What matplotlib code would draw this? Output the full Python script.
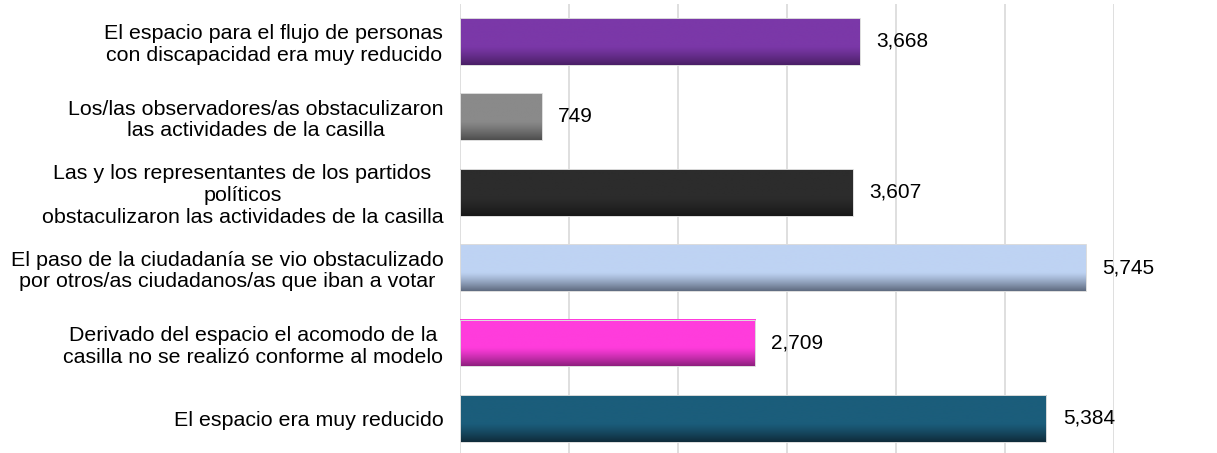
import numpy as np
import matplotlib.pyplot as plt
from matplotlib.colors import to_rgb

plt.rcParams['font.family'] = ['Liberation Sans', 'DejaVu Sans']

labels = [
    "El espacio para el flujo de personas\ncon discapacidad era muy reducido",
    "Los/las observadores/as obstaculizaron\nlas actividades de la casilla",
    "Las y los representantes de los partidos\npolíticos\nobstaculizaron las actividades de la casilla",
    "El paso de la ciudadanía se vio obstaculizado\npor otros/as ciudadanos/as que iban a votar",
    "Derivado del espacio el acomodo de la\ncasilla no se realizó conforme al modelo",
    "El espacio era muy reducido",
]
values = [3668, 749, 3607, 5745, 2709, 5384]
top_colors = ["#7B38A8", "#8A8A8A", "#2C2C2C", "#BED3F3", "#FF3CDC", "#1B5D7B"]
bottom_colors = ["#4A1F66", "#4E4E4E", "#181818", "#5F6B80", "#8E1F7E", "#0F2B3A"]


def gradient(c_top, c_bot, n=100):
    # flat colour on top, darker band in the lower part
    t = np.linspace(0, 1, n)
    w = np.clip((t - 0.6) / 0.4, 0, 1) ** 1.2
    a, b = np.array(to_rgb(c_top)), np.array(to_rgb(c_bot))
    return (a[None, :] * (1 - w[:, None]) + b[None, :] * w[:, None])[:, None, :]


fig = plt.figure(figsize=(12.17, 4.53), dpi=100)
ax = fig.add_axes([0.378, -0.007, 0.537, 0.999])

y = np.arange(len(values))
bars = ax.barh(y, values, height=0.62, color="none", edgecolor="#dcdcdc", linewidth=0.7, zorder=3)

for bar, ct, cb in zip(bars, top_colors, bottom_colors):
    x0, y0 = bar.get_x(), bar.get_y()
    w, h = bar.get_width(), bar.get_height()
    ax.imshow(gradient(ct, cb), extent=[x0, x0 + w, y0 + h, y0], aspect="auto",
              interpolation="bilinear", zorder=2)
    ax.text(x0 + w + 150, y0 + h / 2, f"{int(w):,}", va="center", ha="left",
            fontsize=15, color="#000000", zorder=4)

ax.set_xlim(0, 6000)
ax.set_ylim(len(values) - 0.5, -0.5)
ax.set_xticks(np.arange(0, 6001, 1000))
ax.xaxis.grid(True, color="#d9d9d9", linewidth=1.2, zorder=0)
ax.set_axisbelow(True)
ax.tick_params(axis="x", length=0, labelbottom=False)
ax.tick_params(axis="y", length=0, pad=12)
ax.set_yticks(y)
ax.set_yticklabels(labels, fontsize=15.4, multialignment="center", linespacing=1.18)
for s in ax.spines.values():
    s.set_visible(False)

fig.savefig("out.png", dpi=100)
